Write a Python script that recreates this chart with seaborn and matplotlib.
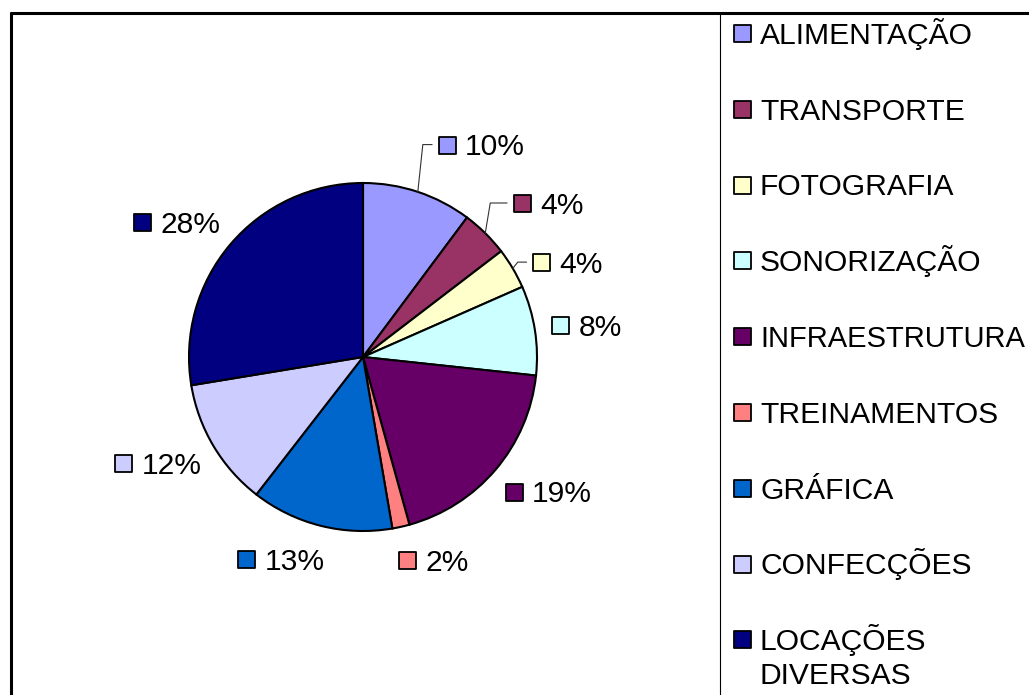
import numpy as np
import matplotlib
matplotlib.use("Agg")
import matplotlib.pyplot as plt
import seaborn as sns

# data
categories = ["ALIMENTAÇÃO", "TRANSPORTE", "FOTOGRAFIA", "SONORIZAÇÃO",
              "INFRAESTRUTURA", "TREINAMENTOS", "GRÁFICA", "CONFECÇÕES",
              "LOCAÇÕES\nDIVERSAS"]
shares = [10.2, 4.4, 3.8, 8.3, 19.0, 1.6, 13.2, 11.9, 27.6]
pct_labels = ["10%", "4%", "4%", "8%", "19%", "2%", "13%", "12%", "28%"]
colors = ["#9999FF", "#993366", "#FFFFCC", "#CCFFFF", "#660066",
          "#FF8080", "#0066CC", "#CCCCFF", "#000080"]

sns.set_theme(style="white")
plt.rcParams["font.family"] = ["Liberation Sans", "DejaVu Sans"]

W, H = 1029, 695
fig = plt.figure(figsize=(W / 100, H / 100), dpi=100)
ax = fig.add_axes([0, 0, 1, 1])

cx, cy, R = 363, 357, 174
# y axis points down, so counterclock in data = clockwise on screen
wedges, _ = ax.pie(shares, colors=colors, startangle=270, counterclock=True,
                   center=(cx, cy), radius=R,
                   wedgeprops=dict(edgecolor="black", linewidth=1.5))
ax.set_xlim(0, W)
ax.set_ylim(H, 0)
ax.set_aspect("equal")
ax.axis("off")

fs = 21.6
em = fs * 100 / 72
cap = 0.716 * em
sq_size = (17 * 0.72) ** 2

# labels that Excel pushed away and linked with a leader line
label_shift = {0: (22, -15), 1: (18, -6), 2: (6, 11)}
gap = 25


def text_w(s):
    return em * sum(0.889 if c == "%" else 0.556 for c in s)


for i, w in enumerate(wedges):
    m = np.deg2rad((w.theta1 + w.theta2) / 2)
    ux, uy = np.cos(m), np.sin(m)
    gw = 27 + text_w(pct_labels[i])
    gx = cx + (R + gap) * ux + 0.78 * gw / 2 * np.sign(ux)
    gy = cy + (R + gap) * uy + 9 * uy
    if i in label_shift:
        gx += label_shift[i][0]
        gy += label_shift[i][1]
    left = gx - gw / 2
    ax.scatter([left + 8.5], [gy], marker="s", s=sq_size, color=colors[i],
               edgecolor="black", linewidth=1.3, zorder=5)
    ax.text(left + 27, gy + cap / 2, pct_labels[i], fontsize=fs,
            ha="left", va="baseline", color="black")
    if i in label_shift:
        axp, ayp = cx + R * ux, cy + R * uy
        ax.plot([axp, axp + 5, left - 6], [ayp, gy, gy],
                color="#333333", lw=0.8, zorder=4)

# frame of the chart area and legend box
ax.plot([10, W], [13, 13], color="black", lw=2.2, solid_capstyle="butt")
ax.plot([11, 11], [12, H], color="black", lw=2.2, solid_capstyle="butt")
ax.plot([720, 720], [13, H], color="black", lw=0.8)

# legend
renderer = fig.canvas.get_renderer()
for i, name in enumerate(categories):
    y = 33 + 75.8 * i
    ax.scatter([742], [y], marker="s", s=sq_size, color=colors[i],
               edgecolor="black", linewidth=1.3, zorder=5)
    for k, line in enumerate(name.split("\n")):
        t = ax.text(760, y + cap / 2 + 34 * k, line, fontsize=fs,
                    ha="left", va="baseline", color="black")
        # keep long entries inside the right edge
        x1 = t.get_window_extent(renderer).x1
        if x1 > W - 3:
            t.set_fontsize(fs * (W - 3 - 760) / (x1 - 760))

fig.savefig("out.png", dpi=100)
